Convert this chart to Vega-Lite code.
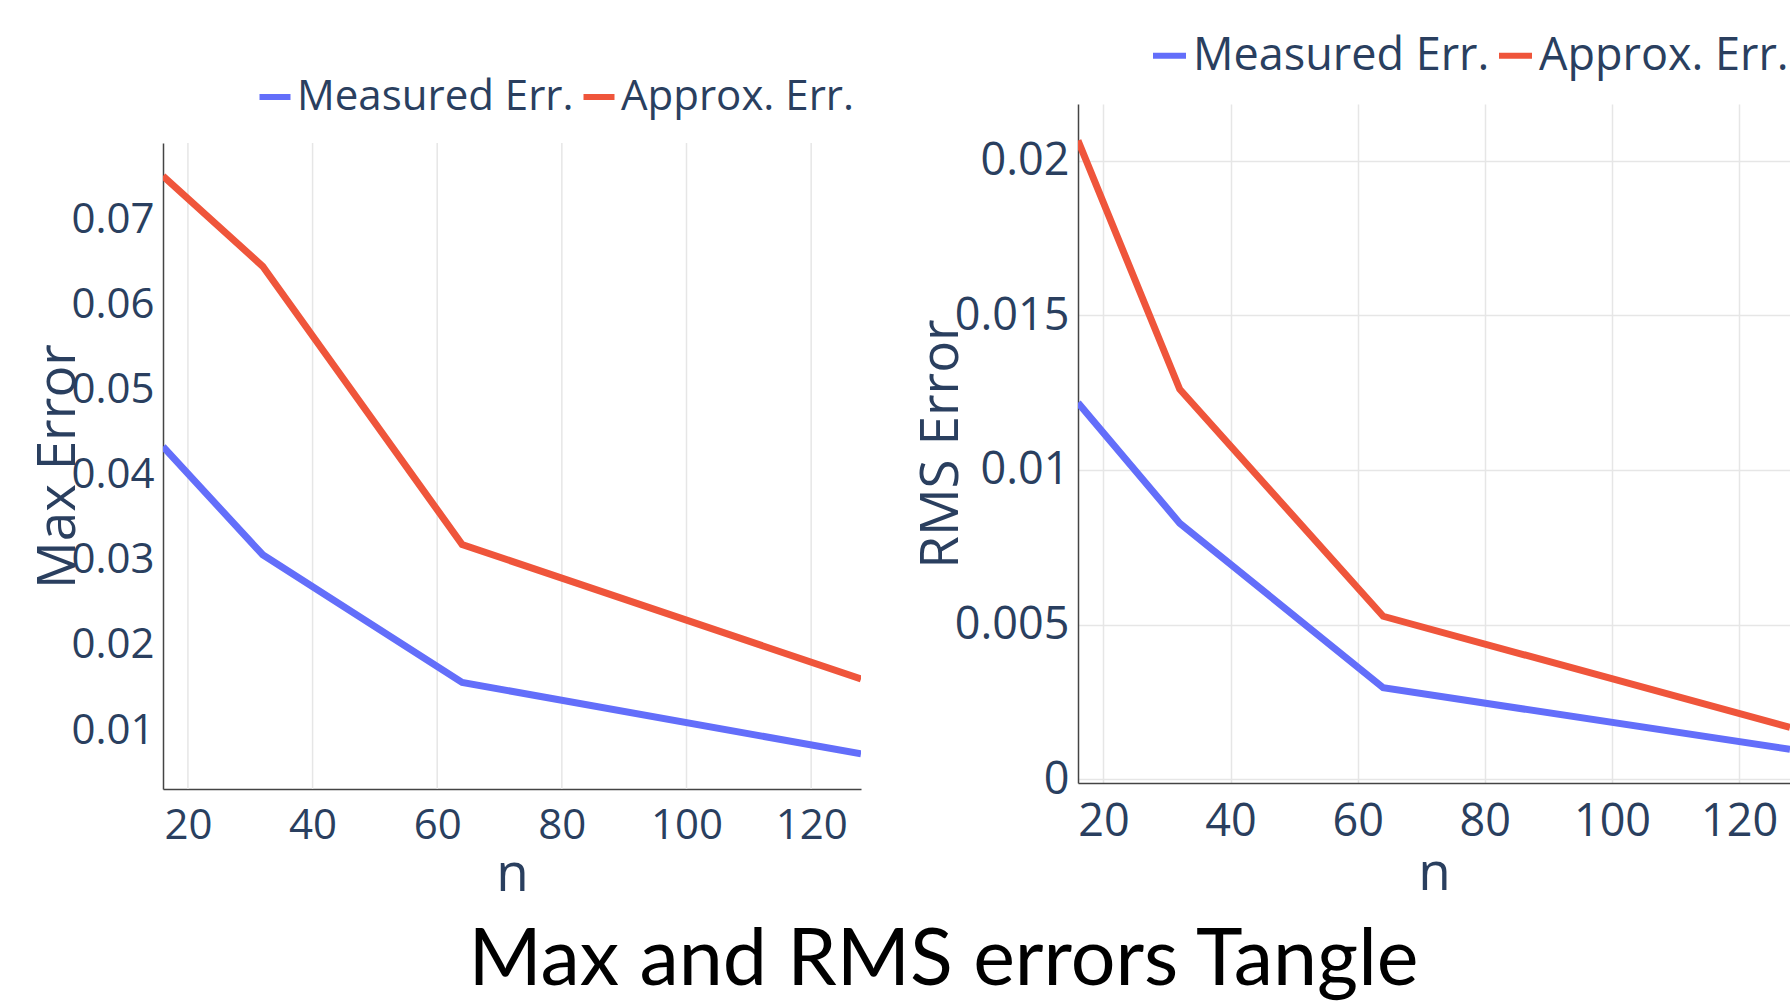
{
  "$schema": "https://vega.github.io/schema/vega-lite/v6.json",
  "background": "white",
  "padding": {"left": 32, "top": 33, "right": 0, "bottom": 0},
  "config": {
    "view": {"stroke": null},
    "font": "Open Sans",
    "axis": {
      "labelFont": "Open Sans", "titleFont": "Open Sans",
      "labelColor": "#2a3f5f", "titleColor": "#2a3f5f",
      "labelFontSize": 42, "titleFontSize": 53, "titleFontWeight": "normal",
      "gridColor": "#e6e6e6", "gridWidth": 1.5,
      "domainColor": "#444444", "domainWidth": 1.5,
      "ticks": false
    },
    "legend": {
      "labelFont": "Open Sans", "labelColor": "#2a3f5f", "labelFontSize": 42,
      "symbolType": "stroke", "symbolStrokeWidth": 6, "symbolSize": 961,
      "labelOffset": 1, "columnPadding": -3, "padding": 0, "title": null,
      "orient": "none", "direction": "horizontal", "labelLimit": 1000
    }
  },
  "title": {
    "text": "Max and RMS errors Tangle",
    "orient": "bottom", "anchor": "middle",
    "font": "Lato", "fontSize": 79, "fontWeight": "normal", "color": "black",
    "offset": 22, "dx": 32
  },
  "datasets": {
    "maxerr": [
      {"n": 16, "series": "Measured Err.", "err": 0.0433},
      {"n": 32, "series": "Measured Err.", "err": 0.0306},
      {"n": 64, "series": "Measured Err.", "err": 0.0156},
      {"n": 128, "series": "Measured Err.", "err": 0.0072},
      {"n": 16, "series": "Approx. Err.", "err": 0.0751},
      {"n": 32, "series": "Approx. Err.", "err": 0.0645},
      {"n": 64, "series": "Approx. Err.", "err": 0.0318},
      {"n": 128, "series": "Approx. Err.", "err": 0.0160}
    ],
    "rmserr": [
      {"n": 16, "series": "Measured Err.", "err": 0.01217},
      {"n": 32, "series": "Measured Err.", "err": 0.00828},
      {"n": 64, "series": "Measured Err.", "err": 0.00296},
      {"n": 128, "series": "Measured Err.", "err": 0.00097},
      {"n": 16, "series": "Approx. Err.", "err": 0.02065},
      {"n": 32, "series": "Approx. Err.", "err": 0.01261},
      {"n": 64, "series": "Approx. Err.", "err": 0.00527},
      {"n": 128, "series": "Approx. Err.", "err": 0.00168}
    ],
    "xgrid": [
      {"n": 20}, {"n": 40}, {"n": 60}, {"n": 80}, {"n": 100}, {"n": 120}
    ]
  },
  "spacing": 54,
  "resolve": {"scale": {"color": "independent"}, "legend": {"color": "independent"}},
  "hconcat": [
    {
      "width": 698, "height": 685,
      "layer": [
        {
          "data": {"name": "xgrid"},
          "mark": {"type": "rule", "color": "#e6e6e6", "strokeWidth": 1.5},
          "encoding": {
            "x": {"field": "n", "type": "quantitative", "title": "n",
                  "scale": {"domain": [16, 128], "nice": false, "zero": false},
                  "axis": {"title": "n", "grid": false, "values": [20, 40, 60, 80, 100, 120], "labelPadding": 16, "titlePadding": 2}},
            "y": {"datum": 0.07899, "type": "quantitative", "title": "Max Error"},
            "y2": {"datum": 0.00307}
          }
        },
        {
          "data": {"name": "maxerr"},
          "mark": {"type": "line", "strokeWidth": 7, "clip": true},
          "encoding": {
            "x": {"field": "n", "type": "quantitative", "title": "n",
                  "scale": {"domain": [16, 128], "nice": false, "zero": false},
                  "axis": {"title": "n", "grid": false, "values": [20, 40, 60, 80, 100, 120], "labelPadding": 16, "titlePadding": 2}},
            "y": {"field": "err", "type": "quantitative", "title": "Max Error",
                  "scale": {"domain": [0.00307, 0.07899], "range": [685, 39], "nice": false, "zero": false},
                  "axis": {"title": "Max Error", "values": [0.01, 0.02, 0.03, 0.04, 0.05, 0.06, 0.07], "format": "~g", "labelPadding": 9, "titlePadding": -15}},
            "color": {"field": "series", "type": "nominal",
                      "scale": {"domain": ["Measured Err.", "Approx. Err."], "range": ["#636efa", "#ef553b"]},
                      "legend": {"legendX": 91, "legendY": -28}}
          }
        }
      ]
    },
    {
      "width": 712, "height": 679,
      "data": {"name": "rmserr"},
      "mark": {"type": "line", "strokeWidth": 7, "clip": true},
      "encoding": {
        "x": {"field": "n", "type": "quantitative",
              "scale": {"domain": [16, 128], "nice": false, "zero": false},
              "axis": {"title": "n", "values": [20, 40, 60, 80, 100, 120], "labelFontSize": 45, "labelPadding": 16, "titlePadding": 3}},
        "y": {"field": "err", "type": "quantitative",
              "scale": {"domain": [-0.00012, 0.02183], "nice": false, "zero": false},
              "axis": {"title": "RMS Error", "values": [0, 0.005, 0.01, 0.015, 0.02], "format": "~g", "labelFontSize": 45, "labelPadding": 9, "titlePadding": -14}},
        "color": {"field": "series", "type": "nominal",
                  "scale": {"domain": ["Measured Err.", "Approx. Err."], "range": ["#636efa", "#ef553b"]},
                  "legend": {"legendX": 69, "legendY": -71, "labelFontSize": 45, "symbolSize": 1089}}
      }
    }
  ]
}
